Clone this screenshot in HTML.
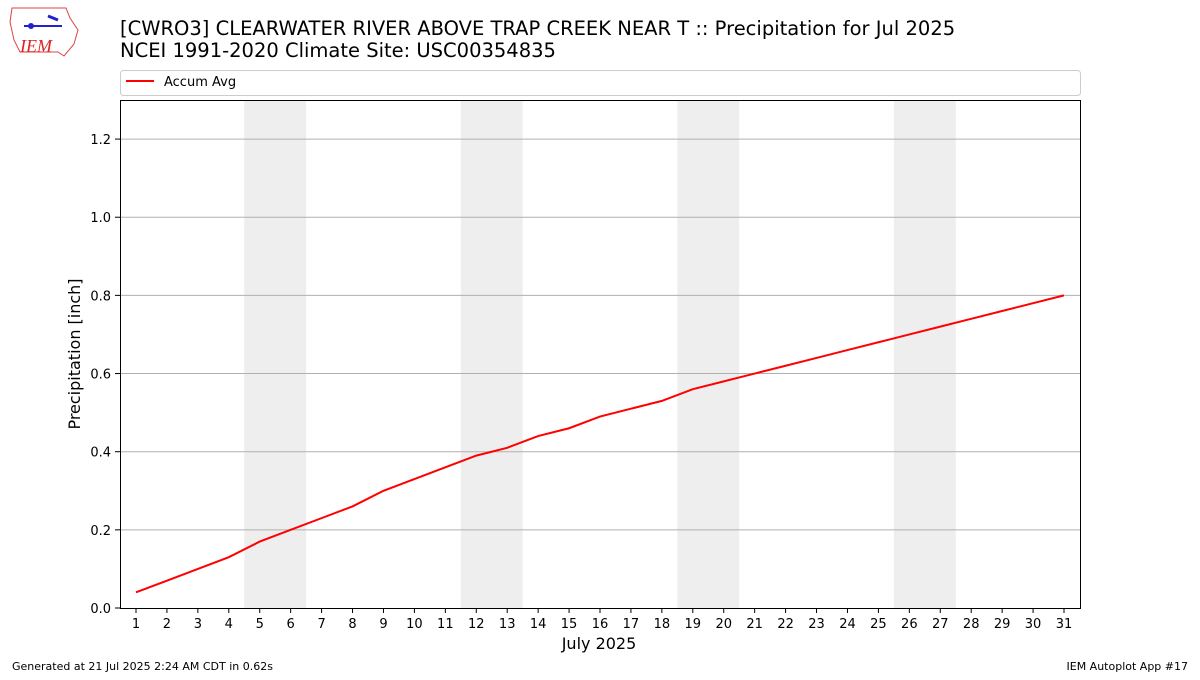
<!DOCTYPE html>
<html><head><meta charset="utf-8"><style>
body{margin:0;background:#fff;font-family:"Liberation Sans","DejaVu Sans",sans-serif;}
</style></head><body>
<svg width="1200" height="675" xmlns="http://www.w3.org/2000/svg" font-family="DejaVu Sans, Liberation Sans, sans-serif">
<g>
<path d="M12 8 L66 8 L70 18 L78 30 L74 44 L64 56 L58 52 L20 52 L14 40 L10 22 Z" fill="none" stroke="#d44" stroke-width="1"/>
<line x1="24" y1="26" x2="62" y2="26" stroke="#22c" stroke-width="2"/>
<circle cx="31" cy="26" r="3" fill="#22c"/>
<path d="M48 16 L58 20" stroke="#22c" stroke-width="3"/>
<text x="20" y="52" font-family="Liberation Serif, serif" font-style="italic" font-size="18" fill="#d22">IEM</text>
</g>
<text x="120" y="35" font-size="19.5" fill="#000">[CWRO3] CLEARWATER RIVER ABOVE TRAP CREEK NEAR T :: Precipitation for Jul 2025</text>
<text x="120" y="57" font-size="19.5" fill="#000">NCEI 1991-2020 Climate Site: USC00354835</text>
<g>
<rect x="120.5" y="70.5" width="960" height="25" rx="3" fill="#fff" stroke="#ccc"/>
<line x1="126" y1="81" x2="154" y2="81" stroke="red" stroke-width="2"/>
<text x="164" y="86" font-size="13">Accum Avg</text>
</g>
<g id="shade"></g>
<g id="grid"></g>
<g id="ticks"></g>
<path id="line" fill="none" stroke="red" stroke-width="2"/>
<rect x="120.5" y="100.5" width="960" height="508" fill="none" stroke="#000" stroke-width="1"/>
<text x="599" y="649" font-size="16" text-anchor="middle">July 2025</text>
<text transform="translate(80,354) rotate(-90)" font-size="16" text-anchor="middle">Precipitation [inch]</text>
<text x="12" y="670" font-size="11">Generated at 21 Jul 2025 2:24 AM CDT in 0.62s</text>
<text x="1188" y="670" font-size="11" text-anchor="end">IEM Autoplot App #17</text>
</svg>
<script>
const days=[];for(let d=1;d<=31;d++)days.push(d);
const accumAvg=[0.04,0.07,0.10,0.13,0.17,0.20,0.23,0.26,0.30,0.33,0.36,0.39,0.41,0.44,0.46,0.49,0.51,0.53,0.56,0.58,0.60,0.62,0.64,0.66,0.68,0.70,0.72,0.74,0.76,0.78,0.80];
const weekendStarts=[5,12,19,26];
const yTicks=[0,0.2,0.4,0.6,0.8,1.0,1.2];
const yTickLabels=["0.0","0.2","0.4","0.6","0.8","1.0","1.2"];
const NS="http://www.w3.org/2000/svg";
const x=d=>136+(d-1)*(1064-136)/30;
const y=v=>608-v*(608-100)/1.3;
function mk(t,a,p){const e=document.createElementNS(NS,t);for(const k in a)e.setAttribute(k,a[k]);p.appendChild(e);return e;}
const shade=document.getElementById('shade'),grid=document.getElementById('grid'),ticks=document.getElementById('ticks');
weekendStarts.forEach(d=>{const r=mk('rect',{x:x(d-0.5),y:100,width:x(d+1.5)-x(d-0.5),height:508,fill:'#eee'},shade);

});
yTicks.forEach((v,i)=>{if(v>0){const g=mk('line',{x1:120,x2:1080,y1:y(v),y2:y(v),stroke:'#b0b0b0','stroke-width':1},grid);

}
mk('line',{x1:115,x2:120,y1:y(v),y2:y(v),stroke:'#000'},ticks);
const t=mk('text',{x:111,y:y(v)+5,'font-size':13,'text-anchor':'end'},ticks);t.textContent=yTickLabels[i];

});
days.forEach(d=>{mk('line',{x1:x(d),x2:x(d),y1:608,y2:613,stroke:'#000'},ticks);
const t=mk('text',{x:x(d),y:628,'font-size':13,'text-anchor':'middle'},ticks);t.textContent=d;

});
document.getElementById('line').setAttribute('d',accumAvg.map((v,i)=>(i?'L':'M')+x(days[i])+' '+y(v)).join(' '));
</script>
</body></html>
